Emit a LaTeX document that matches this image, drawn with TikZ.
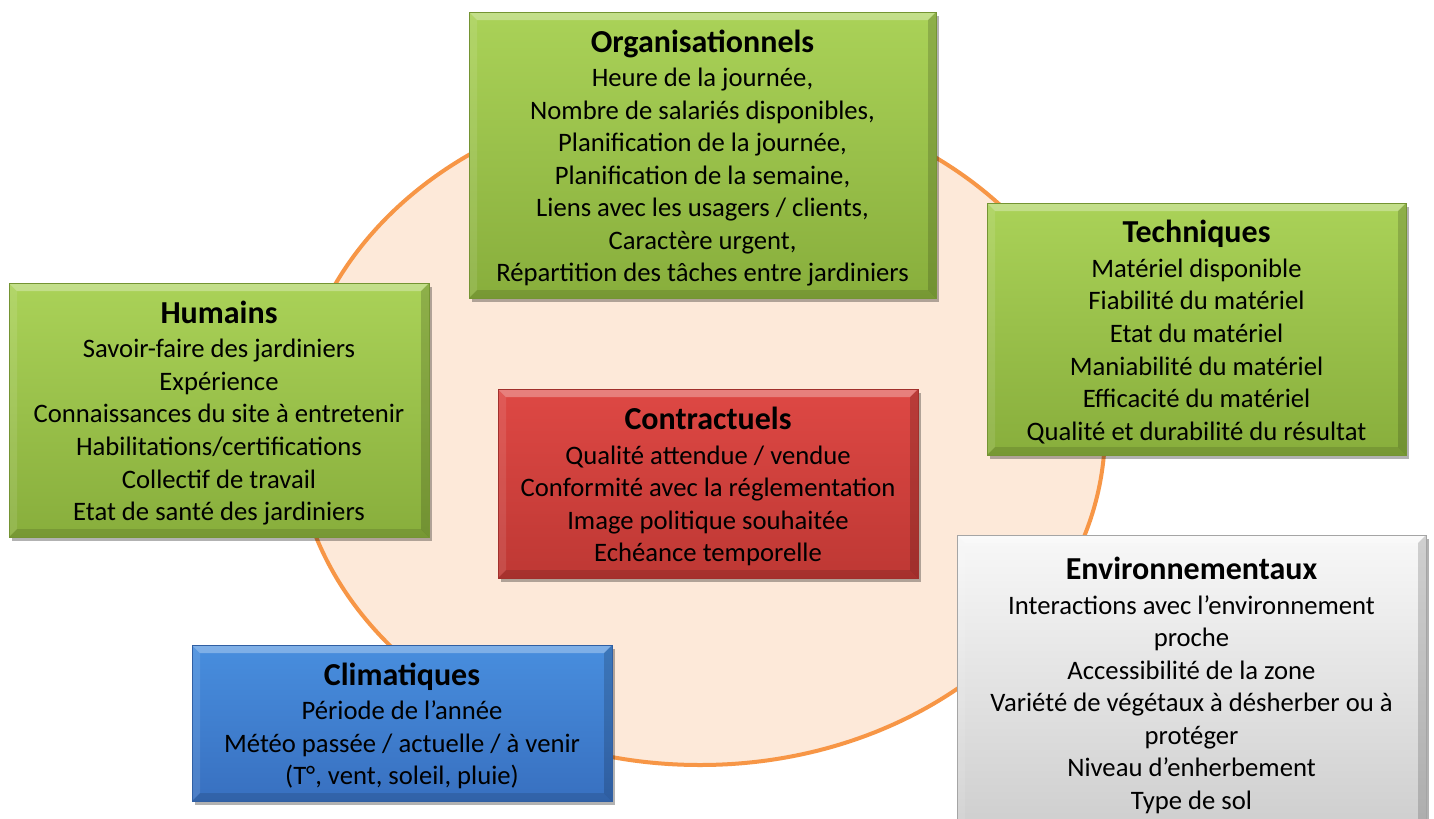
\documentclass[tikz,border=0pt]{standalone}
\usepackage{fontspec}
\setmainfont{Carlito}
\usetikzlibrary{shadows}
\definecolor{peach}{RGB}{253,233,217}
\definecolor{ringorange}{RGB}{247,150,70}
\definecolor{gtop}{RGB}{170,210,88}
\definecolor{gbot}{RGB}{136,174,60}
\definecolor{rtop}{RGB}{222,72,68}
\definecolor{rbot}{RGB}{190,56,52}
\definecolor{btop}{RGB}{72,142,222}
\definecolor{bbot}{RGB}{56,112,192}
\definecolor{wtop}{RGB}{248,248,248}
\definecolor{wbot}{RGB}{206,206,206}
\tikzset{
  sz/.style 2 args={minimum width=#1*0.75pt, minimum height=#2*0.75pt},
  bevel/.style={path picture={
    \coordinate (bbnw) at (path picture bounding box.north west);
    \coordinate (bbne) at (path picture bounding box.north east);
    \coordinate (bbsw) at (path picture bounding box.south west);
    \coordinate (bbse) at (path picture bounding box.south east);
    \fill[white,opacity=.3] (bbnw) -- (bbne) -- ([shift={(-8,8)}]bbne) -- ([shift={(8,8)}]bbnw) -- cycle;
    \fill[white,opacity=.1] (bbnw) -- ([shift={(8,8)}]bbnw) -- ([shift={(8,-8)}]bbsw) -- (bbsw) -- cycle;
    \fill[black,opacity=.16] (bbne) -- ([shift={(-8,8)}]bbne) -- ([shift={(-8,-8)}]bbse) -- (bbse) -- cycle;
    \fill[black,opacity=.12] (bbsw) -- ([shift={(8,-8)}]bbsw) -- ([shift={(-8,-8)}]bbse) -- (bbse) -- cycle;
  }},
  box/.style={rectangle, inner sep=0pt, bevel,
    drop shadow={shadow xshift=2.5pt, shadow yshift=-3pt, opacity=.3, fill=black}},
  txt/.style={inner sep=0pt, align=center, text=black, font=\fontsize{20}{24.4}\selectfont},
  greenbox/.style={box, top color=gtop, bottom color=gbot, draw=gbot!85!black, line width=.4pt},
  redbox/.style={box, top color=rtop, bottom color=rbot, draw=rbot!85!black, line width=.4pt},
  bluebox/.style={box, top color=btop, bottom color=bbot, draw=bbot!85!black, line width=.4pt},
  graybox/.style={box, top color=wtop, bottom color=wbot, draw=wbot!80!black, line width=.4pt},
  ring/.style={draw=ringorange, fill=peach, line width=3pt}
}
\newcommand{\ttlline}[1]{{\fontsize{24}{24.4}\selectfont\bfseries #1}}
\begin{document}
\begin{tikzpicture}[x=0.75pt,y=-0.75pt]
\useasboundingbox (0,0) rectangle (1434,818);
\fill[white] (0,0) rectangle (1434,818);
\path[ring] (700,430) ellipse [x radius=405, y radius=335];

\node[greenbox, sz={467}{286}] (org) at (702.5,155) {};
\node[txt] (orgtext) at ([yshift=-2.25pt]org.center) {\ttlline{Organisationnels}\\[1.5pt]
Heure de la journée,\\
Nombre de salariés disponibles,\\
Planification de la journée,\\
Planification de la semaine,\\
Liens avec les usagers / clients,\\
Caractère urgent,\\
Répartition des tâches entre jardiniers};

\node[greenbox, sz={419}{252}] (tech) at (1196.5,329) {};
\node[txt] (techtext) at ([yshift=-2.25pt]tech.center) {\ttlline{Techniques}\\[1.5pt]
Matériel disponible\\
Fiabilité du matériel\\
Etat du matériel\\
Maniabilité du matériel\\
Efficacité du matériel\\
Qualité et durabilité du résultat};

\node[greenbox, sz={420}{254}] (hum) at (219,410) {};
\node[txt] (humtext) at ([yshift=-2.25pt]hum.center) {\ttlline{Humains}\\[1.5pt]
Savoir-faire des jardiniers\\
Expérience\\
Connaissances du site à entretenir\\
Habilitations/certifications\\
Collectif de travail\\
Etat de santé des jardiniers};

\node[redbox, sz={420}{189}] (contr) at (708,483.5) {};
\node[txt] (contrtext) at ([yshift=-2.25pt]contr.center) {\ttlline{Contractuels}\\[1.5pt]
Qualité attendue / vendue\\
Conformité avec la réglementation\\
Image politique souhaitée\\
Echéance temporelle};

\node[bluebox, sz={420}{156}] (clim) at (402,723) {};
\node[txt] (climtext) at ([yshift=-2.25pt]clim.center) {\ttlline{Climatiques}\\[1.5pt]
Période de l’année\\
Météo passée / actuelle / à venir\\
(T°, vent, soleil, pluie)};

\node[graybox, sz={469}{295}] (env) at (1191.5,682.5) {};
\node[txt] (envtext) at ([yshift=-2.25pt]env.center) {\ttlline{Environnementaux}\\[1.5pt]
Interactions avec l’environnement\\
proche\\
Accessibilité de la zone\\
Variété de végétaux à désherber ou à\\
protéger\\
Niveau d’enherbement\\
Type de sol};
\end{tikzpicture}
\end{document}
